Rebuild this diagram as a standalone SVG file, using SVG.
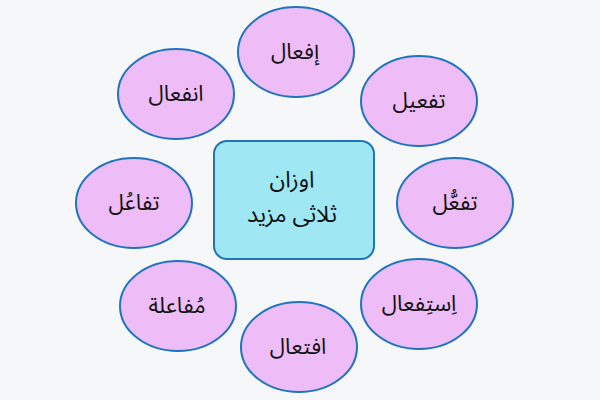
<svg xmlns="http://www.w3.org/2000/svg" width="600" height="400" viewBox="0 0 600 400">
  <style>
    .bg { fill: #f6f7f9; }
    .el { fill: #eebdf8; stroke: #1e74bd; stroke-width: 2; }
    .box { fill: #9fe7f2; stroke: #1e74bd; stroke-width: 2; }
    .t { font-family: "Noto Sans Arabic", "DejaVu Sans", "Noto Sans", sans-serif; font-size: 22px; fill: #111111; text-anchor: middle; direction: rtl; }
    .c { font-size: 23px; }
  </style>
  <rect class="bg" x="0" y="0" width="600" height="400"/>
  <g id="connectors"></g>
  <g id="center">
    <rect class="box" x="214" y="141" width="160" height="118" rx="13" ry="13"/>
    <text class="t c" x="292" y="187">اوزان</text>
    <text class="t c" x="292" y="222">ثلاثی مزید</text>
  </g>
  <g id="n-ifal">
    <ellipse class="el" cx="296" cy="52" rx="58" ry="45"/>
    <text class="t" x="295" y="59">إفعال</text>
  </g>
  <g id="n-tafil">
    <ellipse class="el" cx="419" cy="101" rx="58" ry="45"/>
    <text class="t" x="419" y="108">تفعيل</text>
  </g>
  <g id="n-tafaul">
    <ellipse class="el" cx="455" cy="203" rx="58" ry="45"/>
    <text class="t" x="455" y="210">تفعُّل</text>
  </g>
  <g id="n-istifal">
    <ellipse class="el" cx="419" cy="304" rx="58" ry="45"/>
    <text class="t" x="419" y="311">اِستِفعال</text>
  </g>
  <g id="n-iftial">
    <ellipse class="el" cx="299" cy="347" rx="58" ry="45"/>
    <text class="t" x="298" y="354">افتعال</text>
  </g>
  <g id="n-mufaala">
    <ellipse class="el" cx="178" cy="306" rx="58" ry="45"/>
    <text class="t" x="177" y="313">مُفاعلة</text>
  </g>
  <g id="n-tafaaul">
    <ellipse class="el" cx="134" cy="203" rx="58" ry="45"/>
    <text class="t" x="134" y="210">تفاعُل</text>
  </g>
  <g id="n-infial">
    <ellipse class="el" cx="176" cy="94" rx="58" ry="45"/>
    <text class="t" x="176" y="101">انفعال</text>
  </g>
</svg>
